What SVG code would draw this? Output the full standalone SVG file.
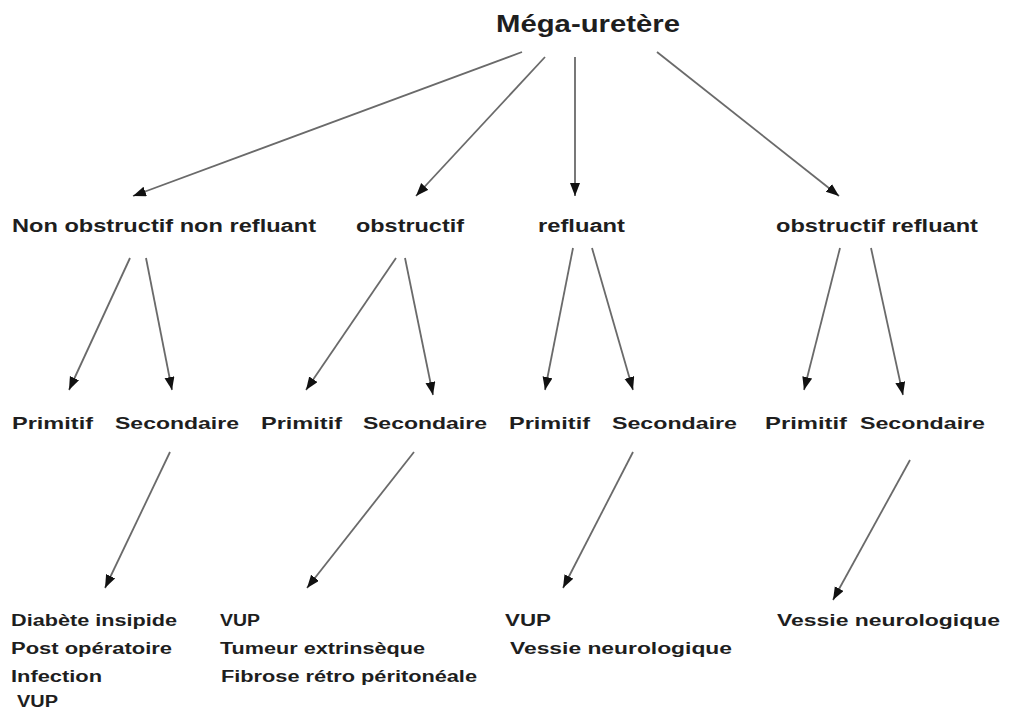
<svg xmlns="http://www.w3.org/2000/svg" width="1016" height="710" viewBox="0 0 1016 710">
<style>
text{font-family:"Liberation Sans",Arial,sans-serif;font-weight:bold;fill:#1e1e1e}
.t{font-size:23px}
.l1{font-size:17.5px}
.l2{font-size:17px}
.l3{font-size:16px}
.c line{stroke:#6a6a6a;stroke-width:1.8;marker-end:url(#ah)}
</style>
<defs>
<marker id="ah" markerUnits="userSpaceOnUse" markerWidth="14" markerHeight="12" refX="13" refY="5" orient="auto">
<path d="M0,0 L13,5 L0,10 Z" fill="#111"/>
</marker>
</defs>
<rect width="1016" height="710" fill="#fff"/>
<g class="c">
<line x1="522" y1="52" x2="133" y2="196"/>
<line x1="545" y1="57" x2="416" y2="196"/>
<line x1="575" y1="57" x2="575" y2="196"/>
<line x1="657" y1="52" x2="839" y2="196"/>
<line x1="130" y1="258" x2="69" y2="390"/>
<line x1="146" y1="258" x2="172" y2="390"/>
<line x1="396" y1="258" x2="306" y2="390"/>
<line x1="405" y1="258" x2="433" y2="395"/>
<line x1="573" y1="248" x2="545" y2="390"/>
<line x1="592" y1="248" x2="633" y2="390"/>
<line x1="840" y1="248" x2="804" y2="390"/>
<line x1="871" y1="248" x2="903" y2="395"/>
<line x1="170" y1="452" x2="105" y2="588"/>
<line x1="414" y1="452" x2="307" y2="588"/>
<line x1="633" y1="452" x2="563" y2="588"/>
<line x1="910" y1="460" x2="833" y2="600"/>
</g>
<g id="n-root"><text class="t" x="496" y="32" textLength="184" lengthAdjust="spacingAndGlyphs">Méga-uretère</text></g>
<g id="n-nonobs"><text class="l1" x="12" y="232" textLength="304" lengthAdjust="spacingAndGlyphs">Non obstructif non refluant</text></g>
<g id="n-obs"><text class="l1" x="356" y="232" textLength="108" lengthAdjust="spacingAndGlyphs">obstructif</text></g>
<g id="n-ref"><text class="l1" x="538" y="232" textLength="87" lengthAdjust="spacingAndGlyphs">refluant</text></g>
<g id="n-obsref"><text class="l1" x="776" y="232" textLength="202" lengthAdjust="spacingAndGlyphs">obstructif refluant</text></g>
<g id="n-p1"><text class="l2" x="12" y="429" textLength="81" lengthAdjust="spacingAndGlyphs">Primitif</text></g>
<g id="n-s1"><text class="l2" x="115" y="429" textLength="124" lengthAdjust="spacingAndGlyphs">Secondaire</text></g>
<g id="n-p2"><text class="l2" x="261" y="429" textLength="81" lengthAdjust="spacingAndGlyphs">Primitif</text></g>
<g id="n-s2"><text class="l2" x="363" y="429" textLength="124" lengthAdjust="spacingAndGlyphs">Secondaire</text></g>
<g id="n-p3"><text class="l2" x="509" y="429" textLength="81" lengthAdjust="spacingAndGlyphs">Primitif</text></g>
<g id="n-s3"><text class="l2" x="612" y="429" textLength="125" lengthAdjust="spacingAndGlyphs">Secondaire</text></g>
<g id="n-p4"><text class="l2" x="765" y="429" textLength="82" lengthAdjust="spacingAndGlyphs">Primitif</text></g>
<g id="n-s4"><text class="l2" x="860" y="429" textLength="125" lengthAdjust="spacingAndGlyphs">Secondaire</text></g>
<g id="n-c1">
<text class="l3" x="11" y="626" textLength="166" lengthAdjust="spacingAndGlyphs">Diabète insipide</text>
<text class="l3" x="11" y="654" textLength="161" lengthAdjust="spacingAndGlyphs">Post opératoire</text>
<text class="l3" x="11" y="682" textLength="91" lengthAdjust="spacingAndGlyphs">Infection</text>
<text class="l3" x="17" y="707" textLength="41" lengthAdjust="spacingAndGlyphs">VUP</text>
</g>
<g id="n-c2">
<text class="l3" x="220" y="626" textLength="40" lengthAdjust="spacingAndGlyphs">VUP</text>
<text class="l3" x="220" y="654" textLength="205" lengthAdjust="spacingAndGlyphs">Tumeur extrinsèque</text>
<text class="l3" x="221" y="682" textLength="256" lengthAdjust="spacingAndGlyphs">Fibrose rétro péritonéale</text>
</g>
<g id="n-c3">
<text class="l3" x="505" y="626" textLength="46" lengthAdjust="spacingAndGlyphs">VUP</text>
<text class="l3" x="510" y="654" textLength="222" lengthAdjust="spacingAndGlyphs">Vessie neurologique</text>
</g>
<g id="n-c4">
<text class="l3" x="777" y="626" textLength="223" lengthAdjust="spacingAndGlyphs">Vessie neurologique</text>
</g>
</svg>
